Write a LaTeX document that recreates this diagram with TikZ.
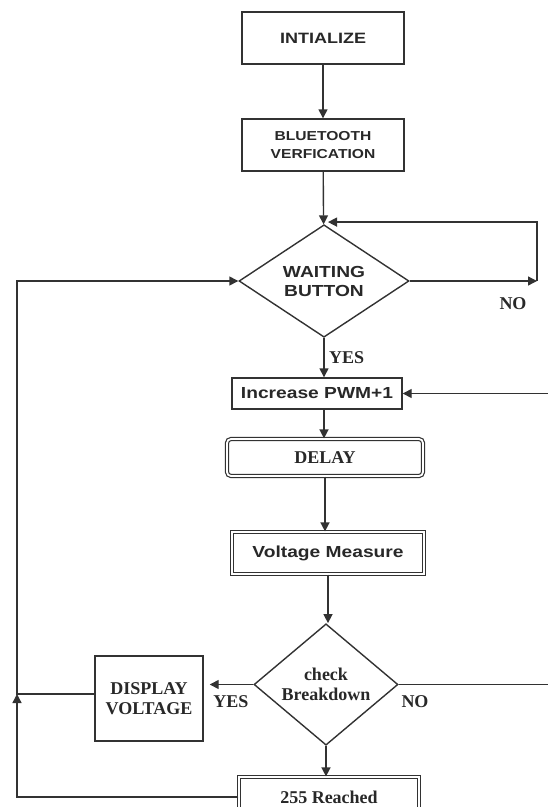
\documentclass[tikz,border=0pt]{standalone}
\usepackage{fontspec}
\newfontfamily\flowsans[FakeStretch=1.2]{Liberation Sans}
\newfontfamily\flowserif{Liberation Serif}
\usetikzlibrary{positioning, shapes.geometric, arrows.meta}
\definecolor{linegray}{RGB}{50,50,50}
\definecolor{textgray}{RGB}{40,40,40}

\begin{document}
\begin{tikzpicture}[x=1pt, y=-1pt, line width=1.4pt, color=linegray,
  >={Triangle[length=9pt,width=9pt]},
  box/.style={draw=linegray, text=textgray, align=center, inner sep=0pt},
  dbox/.style={box, line width=1.2pt, double=white, double distance=1.8pt},
  choice/.style={box, diamond},
  sanstext/.style={font=\flowsans\bfseries\fontsize{16}{19}\selectfont},
  seriftext/.style={font=\flowserif\bfseries\fontsize{18}{20}\selectfont},
  answer/.style={seriftext, text=textgray}]
  \useasboundingbox (0,0) rectangle (547,807);
  % boxes and decisions
  \node[box, sanstext, font=\flowsans\bfseries\fontsize{15}{18}\selectfont, minimum width=162pt, minimum height=52pt] (init) at (323,38) {INTIALIZE};
  \node[box, sanstext, font=\flowsans\bfseries\fontsize{13}{18.7}\selectfont, minimum width=162pt, minimum height=52pt] (blue) at (323,145) {BLUETOOTH\\VERFICATION};
  \node[choice, sanstext, minimum width=170pt, minimum height=110pt] (wait) at (324,281) {WAITING\\BUTTON};
  \node[box, sanstext, minimum width=170pt, minimum height=31pt] (inc) at (317,393.5) {Increase PWM+1};
  \node[dbox, seriftext, rounded corners=4pt, minimum width=196pt, minimum height=37pt] (delay) at (325,457.5) {DELAY};
  \node[dbox, sanstext, minimum width=192pt, minimum height=42pt] (meas) at (328,553) {Voltage Measure};
  \node[choice, seriftext, minimum width=144pt, minimum height=111pt] (check) at (326,684.5) {check\\Breakdown};
  \node[box, seriftext, minimum width=108pt, minimum height=85pt] (disp) at (149,698.5) {DISPLAY\\VOLTAGE};
  \node[dbox, seriftext, minimum width=180pt, minimum height=40pt] (reached) at (329,797) {255 Reached};
  \coordinate (noturn) at (537,281);
  \coordinate (join) at (17,694);
  \coordinate (rightturn) at (553,684.5);
  % connectors
  \draw[->] (init) -- (blue);
  \draw[->] (blue) -- (wait);
  \draw[->] (wait.east) -- (noturn);
  \draw[->] (noturn) |- ([xshift=4pt, yshift=2pt]wait.north);
  \draw[->] (wait) -- (wait.south |- inc.north) node[answer, midway, right=1pt] (yeswait) {YES};
  \draw[->] (wait.south |- inc.south) -- (wait.south |- delay.north);
  \draw[->] (delay) -- (delay.south |- meas.north);
  \draw[->] (meas) -- (meas.south |- check.north);
  \draw[->, shorten >=6pt] (check.west) -- (check.west -| disp.east);
  \draw[->] (check) -- (check.south |- reached.north);
  \draw[->] (check.east) -- (rightturn) |- (inc.east);
  \draw[->] (join -| disp.west) -- (join) |- (wait.west);
  \draw[->] (reached.west) -| (join);
  \node[answer] (nowait) at (513,304) {NO};
  \node[answer] (yescheck) at (231,702) {YES};
  \node[answer] (nocheck) at (415,702) {NO};
\end{tikzpicture}
\end{document}
